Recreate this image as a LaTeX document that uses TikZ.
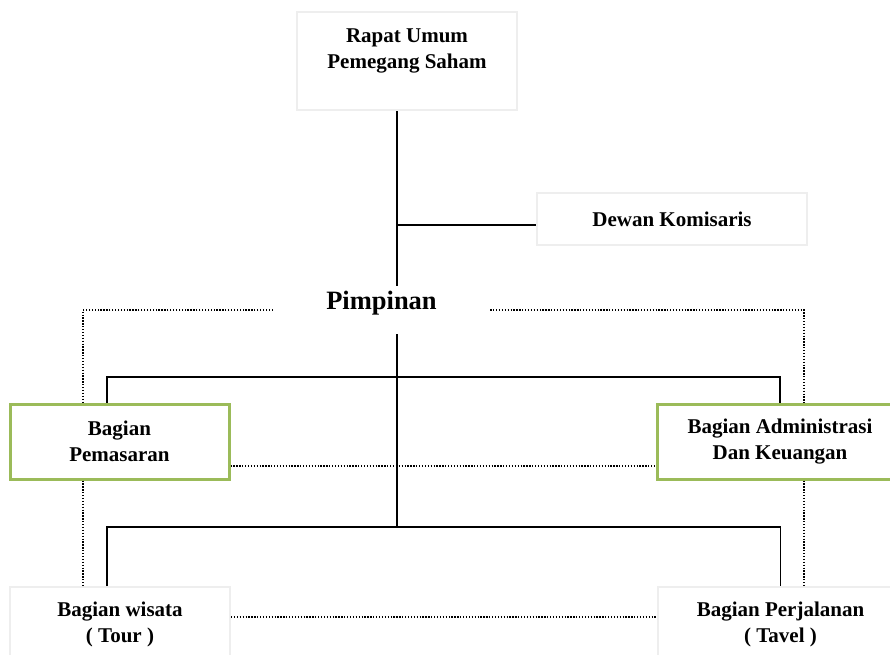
\documentclass[tikz,border=0pt]{standalone}
\usepackage{fontspec}
\setmainfont{Liberation Serif}
\usetikzlibrary{positioning, calc}
\definecolor{boxgray}{HTML}{EEEEEE}
\definecolor{boxgreen}{HTML}{9BBB59}

\begin{document}
\begin{tikzpicture}[
    x=1pt, y=-1pt,
    box/.style={
      draw=boxgray, line width=2pt, align=center, inner sep=0pt,
      font=\fontsize{21}{26}\selectfont\bfseries
    },
    unit/.style={box, minimum width=219pt, minimum height=75pt},
    greenbox/.style={unit, draw=boxgreen, line width=3pt},
    head/.style={font=\fontsize{26.5}{30}\selectfont\bfseries, inner sep=0pt},
    link/.style={line width=1.6pt},
    dotlink/.style={line width=1.6pt, dash pattern=on 1.3pt off 1.6pt}
]
\useasboundingbox (0,0) rectangle (890,654);

% Top
\node[box, minimum width=220pt, minimum height=98pt, text depth=24pt] (rups) at (407,61) {Rapat Umum\\Pemegang Saham};
\node[box, minimum width=270pt, minimum height=52pt] (dewan) at (672,219) {Dewan Komisaris};
\node[head, minimum width=217pt, minimum height=48pt, text depth=19pt] (pimpinan) at (381.5,310) {Pimpinan};

% Divisions
\node[greenbox] (pemasaran) at (119.5,441.5) {Bagian\\Pemasaran};
\node[greenbox, minimum width=246pt] (admin) at (780,441.5) {Bagian Administrasi\\Dan Keuangan};
\node[unit, minimum width=220pt] (wisata) at (120,624.5) {Bagian wisata\\( Tour )};
\node[unit, minimum width=246pt] (perjalanan) at (780.5,624.5) {Bagian Perjalanan\\( Tavel )};

% Rails
\coordinate (spine) at (397,0);
\coordinate (leftdrop) at (107,0);
\coordinate (upbar) at (0,377);
\coordinate (lowbar) at (0,527);
\coordinate (leftrail) at (83,0);
\coordinate (rightrail) at (804,0);

% Lines
\draw[link] (rups.south -| spine) -- (pimpinan.north -| spine);
\draw[link] ([yshift=-6pt]dewan.west -| spine) -- ([yshift=-6pt]dewan.west);
\draw[link] (pimpinan.south -| spine) -- (lowbar -| spine);
\draw[link] (pemasaran.north -| leftdrop) |- (upbar -| admin.north) -- (admin.north);
\draw[link] (wisata.north -| leftdrop) |- (lowbar -| perjalanan.north) -- (perjalanan.north);

% Dotted lines
\draw[dotlink] (pimpinan.west) -| (pemasaran.north -| leftrail);
\draw[dotlink] (pemasaran.south -| leftrail) -- (wisata.north -| leftrail);
\draw[dotlink] (pimpinan.east) -| (admin.north -| rightrail);
\draw[dotlink] (admin.south -| rightrail) -- (perjalanan.north -| rightrail);
\draw[dotlink] ([yshift=-24.5pt]pemasaran.east) -- ([yshift=-24.5pt]admin.west);
\draw[dotlink] ([yshift=7.5pt]wisata.east) -- ([yshift=7.5pt]perjalanan.west);

\end{tikzpicture}
\end{document}
